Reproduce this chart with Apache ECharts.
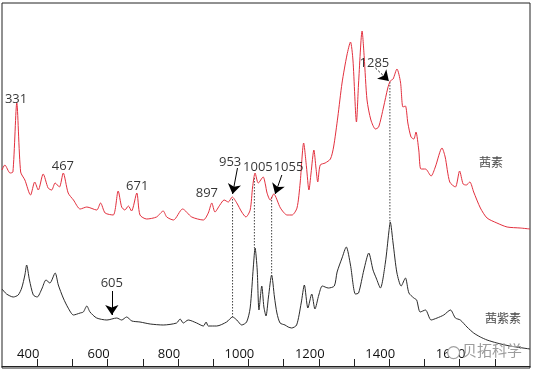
<!DOCTYPE html>
<html>
<head>
<meta charset="utf-8">
<script src="https://cdn.jsdelivr.net/npm/echarts@6/dist/echarts.min.js"></script>
<style>
html,body{margin:0;padding:0;background:#fff;}
#chart{width:534px;height:372px;}
</style>
</head>
<body>
<div id="chart"></div>
<script>
// Raman shift (cm-1) and intensity (arbitrary units)
var redX = [300,308,323,331,342,353,365,381,393,403,417,431,441,451,463,474,488,503,522,541,569,580,593,616,630,640,649,659,668,683,692,711,739,758,768,787,813,839,872,886,896,905,919,931,943,954,967,981,993,1005,1012,1019,1028,1042,1048,1053,1062,1072,1091,1110,1124,1138,1147,1157,1165,1172,1178,1186,1192,1197,1204,1218,1233,1242,1254,1266,1280,1290,1297,1307,1313,1323,1329,1337,1348,1361,1370,1384,1396,1403,1411,1422,1432,1439,1446,1453,1462,1470,1476,1484,1490,1503,1519,1531,1550,1559,1572,1588,1600,1610,1619,1629,1640,1659,1678,1706,1735,1772,1800];
var redY = [196,201,193,194,263,194,186,171,184,176,192,178,176,183,179,193,173,166,157,159,156,163,153,151,175,159,156,160,155,173,151,147,149,155,149,146,157,149,146,153,163,154,161,166,164,169,163,154,149,156,179,193,183,189,182,173,166,172,158,151,151,158,183,223,199,176,193,216,198,184,201,203,207,219,249,283,311,324,306,244,283,335,309,266,246,237,239,259,278,285,287,297,284,259,260,243,229,227,234,216,197,197,190,199,218,209,184,179,195,182,181,184,174,158,148,143,139,138,137];

var blackX = [300,313,332,346,356,365,370,378,389,400,413,425,436,451,460,474,488,503,522,531,541,550,569,598,626,640,654,669,692,721,758,796,806,815,829,853,872,880,886,910,938,955,967,981,995,1005,1014,1019,1025,1030,1038,1044,1050,1057,1066,1074,1081,1090,1104,1113,1123,1137,1150,1159,1169,1180,1189,1200,1210,1227,1244,1252,1266,1278,1290,1304,1313,1328,1342,1354,1363,1375,1389,1399,1403,1411,1422,1434,1446,1456,1470,1478,1488,1503,1519,1536,1555,1574,1588,1602,1621,1640,1659,1678,1706,1743,1800];
var blackY = [77,72,69,71,78,91,101,86,71,69,77,86,83,93,81,68,58,51,53,54,60,54,48,46,48,46,49,45,44,42,41,43,47,43,46,43,40,44,40,40,44,49,46,41,44,58,99,118,96,56,80,59,50,69,91,69,53,43,41,39,38,41,63,81,58,72,57,71,80,78,80,94,108,119,101,72,73,96,113,96,88,78,103,134,144,123,93,80,88,73,68,66,54,56,46,48,51,56,48,46,39,33,29,26,23,20,17];

var seriesNames = ['茜素','茜紫素'];
var seriesNameX = [1689,1723];
var seriesNameY = [204,48];

var peakLabels = ['331','467','671','897','953','1005','1055','1285','605'];
var peakLabelX = [340,473,684,882,948,1027,1114,1358,612];
var peakLabelY = [267,200,180,173,204,199,199,303,83];

// arrows: start / end in data units
var arrowFromX = [969,1095,1361,612];
var arrowFromY = [198,191,298,75];
var arrowToX = [955,1076,1399,612];
var arrowToY = [172,172,285,51];
var arrowDashed = [false,false,true,false];

// dotted guide lines between the two spectra
var guideX = [955,1017,1066,1402];
var guideTop = [167,188,169,284];
var guideBottom = [49,118,91,144];

var tickLabels = [400,600,800,1000,1200,1400,1600];

function zip(xs, ys){ return xs.map(function(x,i){ return [x, ys[i]]; }); }

var chart = echarts.init(document.getElementById('chart'), null, {renderer:'canvas'});

var series = [
  {type:'line', data:zip(redX, redY), showSymbol:false, symbol:'none', smooth:0.25,
   lineStyle:{color:'#e3303e', width:1}, z:3, silent:true},
  {type:'line', data:zip(blackX, blackY), showSymbol:false, symbol:'none', smooth:0.25,
   lineStyle:{color:'#2b2b2b', width:1}, z:3, silent:true}
];

guideX.forEach(function(x,i){
  series.push({type:'line', data:[[x, guideTop[i]],[x, guideBottom[i]]], symbol:'none',
    lineStyle:{color:'#444', width:1, type:[1.5,1.5]}, z:2, silent:true});
});

var arrowData = arrowFromX.map(function(x,i){
  return [
    {coord:[x, arrowFromY[i]], lineStyle:{type: arrowDashed[i] ? [2,2] : 'solid'}},
    {coord:[arrowToX[i], arrowToY[i]]}
  ];
});

series.push({
  type:'scatter', symbolSize:0, silent:true, z:5,
  data: peakLabels.map(function(t,i){ return {name:t, value:[peakLabelX[i], peakLabelY[i]]}; }),
  label:{show:true, position:'inside', formatter:'{b}', color:'#000', fontSize:13, fontFamily:'Open Sans'}
});

series.push({
  type:'line', data:[], silent:true, z:6,
  markLine:{silent:true, symbol:['none','arrow'], symbolSize:10,
    label:{show:false}, lineStyle:{color:'#000', width:1, type:'solid'},
    emphasis:{disabled:true}, animation:false, data: arrowData}
});

series.push({
  type:'scatter', symbolSize:0, silent:true, z:5,
  data: seriesNames.map(function(t,i){ return {name:t, value:[seriesNameX[i], seriesNameY[i]]}; }),
  label:{show:true, position:'inside', formatter:'{b}', color:'#111', fontSize:12, fontFamily:'Noto Sans CJK SC'}
});

chart.setOption({
  animation:false,
  backgroundColor:'#fff',
  grid:{left:2, right:4, top:3, bottom:4, show:true, borderColor:'#222', borderWidth:1},
  xAxis:{
    type:'value', min:300, max:1800, interval:100,
    axisLine:{show:true, lineStyle:{color:'#222', width:1}},
    axisTick:{show:true, inside:true, length:7, lineStyle:{color:'#222'}},
    axisLabel:{inside:true, margin:7, color:'#111', fontSize:13, fontFamily:'Open Sans',
      padding:[0,18,0,0], showMinLabel:false, showMaxLabel:false,
      formatter:function(v){ return tickLabels.indexOf(v) >= 0 ? String(v) : ''; }},
    splitLine:{show:false}
  },
  yAxis:{type:'value', min:-2, max:363, show:false},
  series: series,
  graphic:[
    {type:'circle', left:447, top:346, shape:{r:6}, style:{fill:'#fff', stroke:'#a0a0a0', lineWidth:1.2}, z:100},
    {type:'text', left:462, top:343, style:{text:'贝拓科学', fill:'#9c9c9c', fontSize:15, fontFamily:'Noto Sans CJK SC'}, z:100}
  ]
});
</script>
</body>
</html>
